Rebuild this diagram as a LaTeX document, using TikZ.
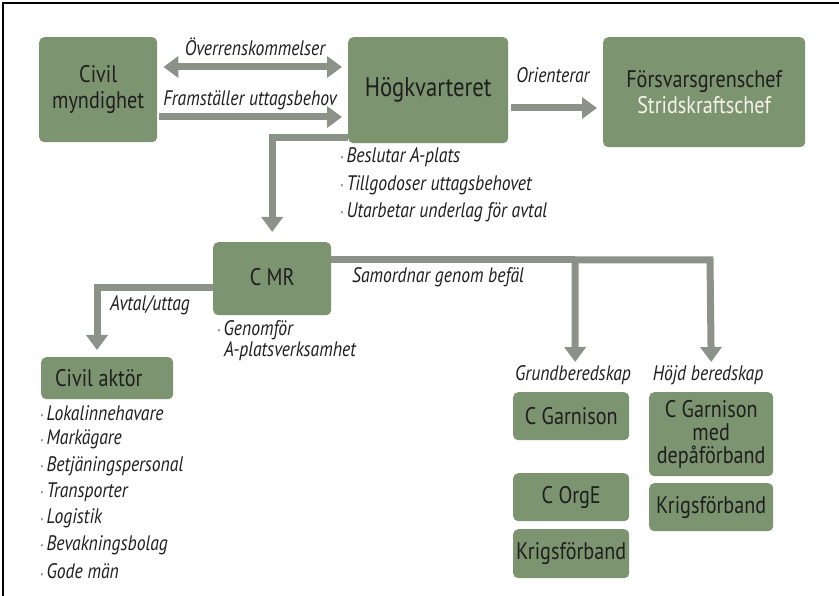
\documentclass[tikz,border=0pt]{standalone}
\usepackage{fontspec}
\setmainfont{PT Sans}[FakeStretch=0.84]
\usetikzlibrary{arrows.meta}
\definecolor{boxgreen}{RGB}{125,148,112}
\definecolor{arrgray}{RGB}{140,146,136}
\definecolor{txt}{RGB}{30,30,30}
\definecolor{bgray}{RGB}{150,150,150}
\definecolor{lighttxt}{RGB}{245,243,232}
\newcommand\mybul{{\color{bgray}\fontsize{9}{9}\selectfont\raisebox{1.5pt}{•}}\hspace{3pt}}
\tikzset{
  box/.style={fill=boxgreen, rounded corners=5pt, anchor=north west, align=center, text=txt, inner sep=0pt},
  bt/.style={font=\fontsize{24}{26}\selectfont},
  arr/.style={draw=arrgray, line width=7pt, -{Triangle[width=21pt,length=15pt]}},
  darr/.style={draw=arrgray, line width=7pt, {Triangle[width=21pt,length=15pt]}-{Triangle[width=21pt,length=15pt]}},
  lbl/.style={font=\itshape\fontsize{21}{23}\selectfont, text=txt, inner sep=0pt},
  item/.style={font=\itshape\fontsize{21}{23}\selectfont, text=txt, inner sep=0pt, anchor=west},
}
\begin{document}
\begin{tikzpicture}[x=1pt,y=-1pt]
\useasboundingbox (0,0) rectangle (839,596);
\fill[white] (0,0) rectangle (839,596);
\draw[line width=2pt, black] (3,596) -- (3,3) -- (839,3);
% boxes
\node[box, bt, minimum width=118pt, minimum height=105pt] (civ) at (39,37) {Civil\\myndighet};
\node[box, minimum width=160pt, minimum height=106pt, font=\fontsize{27}{30}\selectfont] (hq) at (348,37) {\raisebox{3pt}{Högkvarteret}};
\node[box, bt, minimum width=202pt, minimum height=110pt] (fgc) at (603,37) {Försvarsgrenschef\\\textcolor{lighttxt}{Stridskraftschef}};
\node[box, bt, minimum width=118pt, minimum height=73pt] (cmr) at (213,242) {\raisebox{3pt}{C MR}};
\node[box, bt, minimum width=132pt, minimum height=42pt] (aktor) at (41,357) {\makebox[132pt][l]{\hspace{14pt}Civil aktör}};
\node[box, bt, minimum width=116pt, minimum height=48pt] (cg) at (513,392) {C Garnison};
\node[box, bt, minimum width=116pt, minimum height=48pt] (corge) at (513,473) {C OrgE};
\node[box, bt, minimum width=116pt, minimum height=49pt] (kf1) at (513,529) {Krigsförband};
\node[box, minimum width=124pt, minimum height=84pt, font=\fontsize{24}{23}\selectfont] (cgd) at (649,392) {C Garnison\\med\\depåförband};
\node[box, bt, minimum width=124pt, minimum height=48pt] (kf2) at (649,483) {Krigsförband};
% coordinates
\coordinate (j1) at (575,260);
\coordinate (j2) at (710,260);
% arrows
\draw[darr] ([xshift=6pt,yshift=-30pt]civ.north east) -- ([xshift=-6pt,yshift=-30pt]hq.north west);
\draw[arr] ([xshift=2pt,yshift=-80pt]civ.north east) -- ([xshift=-6pt,yshift=-80pt]hq.north west);
\draw[arr] ([xshift=3pt,yshift=-71pt]hq.north east) -- ([xshift=-6pt,yshift=-71pt]fgc.north west);
\draw[arr] ([yshift=6pt]hq.south west) -| ([yshift=10pt]cmr.north);
\draw[arr] ([yshift=-46pt]cmr.north west) -| ([xshift=56pt,yshift=7pt]aktor.north west);
\draw[draw=arrgray, line width=7pt] ([yshift=-18pt]cmr.north east) -- (j1);
\draw[arr] (j1) -- (j2) -- ([yshift=30pt]cgd.north);
\draw[arr] (j1) -- ([yshift=30pt,xshift=4pt]cg.north);
% labels
\node[lbl] (l1) at (255,47) {Överrenskommelser};
\node[lbl] (l2) at (250,100) {Framställer uttagsbehov};
\node[lbl] (l3) at (553,75) {Orienterar};
\node[lbl] (l4) at (150,305) {Avtal/uttag};
\node[lbl, anchor=west] (l5) at (352,277) {Samordnar genom befäl};
\node[lbl] (l6) at (573,375) {Grundberedskap};
\node[lbl] (l7) at (708,375) {Höjd beredskap};
% lists
\node[item] (h1) at (340,157) {\mybul Beslutar A-plats};
\node[item] (h2) at (340,185) {\mybul Tillgodoser uttagsbehovet};
\node[item] (h3) at (340,212) {\mybul Utarbetar underlag för avtal};
\node[item] (g1) at (217,330) {\mybul Genomför};
\node[item] (g2) at (224,351) {A-platsverksamhet};
\foreach \t [count=\i] in {Lokalinnehavare,Markägare,Betjäningspersonal,Transporter,Logistik,Bevakningsbolag,Gode män}
  \node[item] (a\i) at (40,{413+26.4*(\i-1)}) {\mybul \t};
\end{tikzpicture}
\end{document}
